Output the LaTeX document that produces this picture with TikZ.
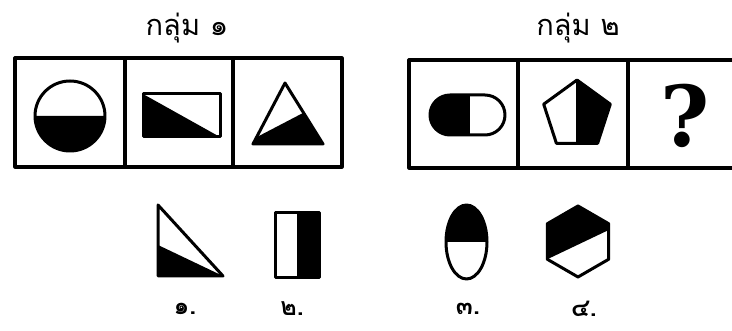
\documentclass[tikz,border=0pt]{standalone}
\usepackage{fontspec}
\newfontfamily\thaifont[Script=Thai]{Loma}
\newfontfamily\askfont{DejaVu Serif}
\usepackage{tikz}
\usetikzlibrary{positioning,calc}

\begin{document}
\begin{tikzpicture}[x=1pt, y=-1pt, line join=round, every node/.style={font=\thaifont}]
\clip (0,0) rectangle (732,331);
\fill[white] (0,0) rectangle (732,331);

% group 1
\node (title1) at (187,28) {\fontsize{29}{29}\selectfont กลุ่ม ๑};
\draw[line width=3.2pt] (15,58) rectangle (342,167);
\foreach \x in {125,233}
  \draw[line width=3.2pt] (\x,58) -- (\x,167);
\fill (35,116) arc[start angle=180, end angle=0, radius=35] -- cycle;
\draw[line width=3pt] (70,116) circle[radius=35];
\fill (143,94) -- (143,137) -- (220,137) -- cycle;
\draw[line width=3pt] (143,94) rectangle (220,137);
\fill (253,144) -- (323,144) -- (303,113) -- (257,137) -- cycle;
\draw[line width=3pt] (285,83) -- (323,144) -- (253,144) -- cycle;

% group 2
\node (title2) at (578,28) {\fontsize{29}{29}\selectfont กลุ่ม ๒};
\draw[line width=3.2pt] (409,60) rectangle (745,168);
\foreach \x in {518,628}
  \draw[line width=3.2pt] (\x,60) -- (\x,168);
\fill (468,95) -- (450,95) arc[start angle=270, end angle=90, radius=20] -- (468,135) -- cycle;
\draw[line width=3pt, rounded corners=20pt] (430,95) rectangle (505,135);
\draw[line width=3pt] (468,95) -- (468,135);
\fill (577,80) -- (610.3,104.2) -- (597.6,143.3) -- (577,143.3) -- cycle;
\draw[line width=3pt] (577,80) -- (610.3,104.2) -- (597.6,143.3) -- (556.4,143.3) -- (543.7,104.2) -- cycle;
\draw[line width=3pt] (577,80) -- (577,143.3);
\node (ask) at (685,116) {\askfont\fontsize{84}{84}\selectfont\bfseries ?};

% choices
\fill (158,245) -- (158,276) -- (223,276) -- cycle;
\draw[line width=3pt] (158,205) -- (158,276) -- (223,276) -- cycle;
\fill (297,213) rectangle (319,278);
\draw[line width=3pt] (275,213) rectangle (319,278);
\fill (446,242) arc[start angle=180, end angle=360, x radius=20.5, y radius=37] -- cycle;
\draw[line width=3pt] (466.5,242) ellipse[x radius=20.5, y radius=37];
\fill (547.3,259.25) -- (547.3,223.75) -- (578,206) -- (608.7,223.75) -- (608.7,230) -- cycle;
\draw[line width=3pt] (578,206) -- (608.7,223.75) -- (608.7,259.25) -- (578,277) -- (547.3,259.25) -- (547.3,223.75) -- cycle;
\foreach \x/\lbl [count=\i] in {185/๑., 292/๒., 468/๓., 584/๔.}
  \node[font=\thaifont\fontsize{25}{25}\selectfont\bfseries] (opt\i) at (\x,309) {\lbl};
\end{tikzpicture}
\end{document}
